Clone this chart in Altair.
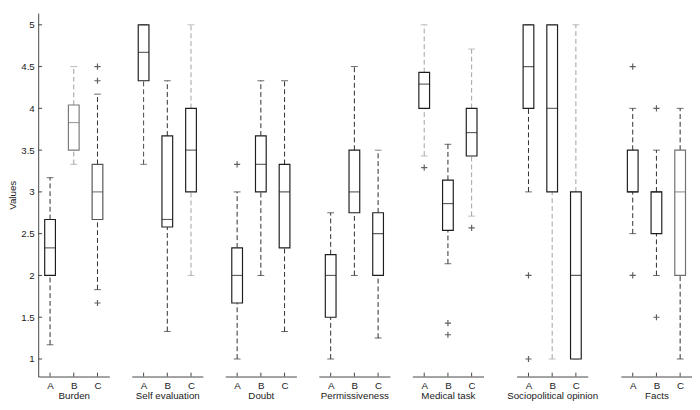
import altair as alt
import pandas as pd

groups = ["Burden", "Self evaluation", "Doubt", "Permissiveness",
          "Medical task", "Sociopolitical opinion", "Facts"]
cats = ["A", "B", "C"]

# per box (group-major, A/B/C within group)
lower = [1.17, 3.33, 1.83,  3.33, 1.33, 2.0,  1.0, 2.0, 1.33,  1.0, 2.0, 1.25,
         3.43, 2.14, 2.71,  3.0, 1.0, 1.0,  2.5, 2.0, 1.0]
q1 = [2.0, 3.5, 2.67,  4.33, 2.58, 3.0,  1.67, 3.0, 2.33,  1.5, 2.75, 2.0,
      4.0, 2.54, 3.43,  4.0, 3.0, 1.0,  3.0, 2.5, 2.0]
med = [2.33, 3.83, 3.0,  4.67, 2.67, 3.5,  2.0, 3.33, 3.0,  2.0, 3.0, 2.5,
       4.29, 2.86, 3.71,  4.5, 4.0, 2.0,  3.0, 3.0, 3.0]
q3 = [2.67, 4.04, 3.33,  5.0, 3.67, 4.0,  2.33, 3.67, 3.33,  2.25, 3.5, 2.75,
      4.43, 3.14, 4.0,  5.0, 5.0, 3.0,  3.5, 3.0, 3.5]
upper = [3.17, 4.5, 4.17,  5.0, 4.33, 5.0,  3.0, 4.33, 4.33,  2.75, 4.5, 3.5,
         5.0, 3.57, 4.71,  5.0, 5.0, 5.0,  4.0, 3.5, 4.0]

box_color = ["#1e1e1e", "#7a7a7a", "#555555",  "#1e1e1e", "#1e1e1e", "#1e1e1e",
             "#1e1e1e", "#1e1e1e", "#1e1e1e",  "#1e1e1e", "#1e1e1e", "#1e1e1e",
             "#1e1e1e", "#1e1e1e", "#1e1e1e",  "#1e1e1e", "#1e1e1e", "#1e1e1e",
             "#1e1e1e", "#1e1e1e", "#707070"]
whisker_color = ["#2a2a2a", "#9a9a9a", "#2a2a2a",  "#444444", "#2a2a2a", "#a0a0a0",
                 "#2a2a2a", "#2a2a2a", "#2a2a2a",  "#2a2a2a", "#2a2a2a", "#2a2a2a",
                 "#a0a0a0", "#2a2a2a", "#a0a0a0",  "#2a2a2a", "#a0a0a0", "#a0a0a0",
                 "#2a2a2a", "#2a2a2a", "#2a2a2a"]

out_group = ["Burden", "Burden", "Burden", "Doubt", "Medical task", "Medical task",
             "Medical task", "Medical task", "Sociopolitical opinion",
             "Sociopolitical opinion", "Facts", "Facts", "Facts", "Facts"]
out_cat = ["C", "C", "C", "A", "A", "B", "B", "C", "A", "A", "A", "A", "B", "B"]
out_val = [4.5, 4.33, 1.67, 3.33, 3.29, 1.43, 1.29, 2.57, 2.0, 1.0, 4.5, 2.0, 4.0, 1.5]

y_ticks = [1, 1.5, 2, 2.5, 3, 3.5, 4, 4.5, 5]

df = pd.DataFrame({
    "group": [g for g in groups for _ in cats],
    "cat": cats * len(groups),
    "lower": lower, "q1": q1, "med": med, "q3": q3, "upper": upper,
    "bc": box_color, "wc": whisker_color,
})
odf = pd.DataFrame({"group": out_group, "cat": out_cat, "v": out_val})
tdf = pd.DataFrame({"v": y_ticks})

W = 73
H = 373
FONT = "Liberation Sans"
y_scale = alt.Scale(domain=[0.79, 5.14], nice=False, zero=False)


def panel(i, g):
    d = df[df.group == g]
    o = odf[odf.group == g]
    x = alt.X("cat:N",
              scale=alt.Scale(type="point", domain=cats, padding=0.5),
              axis=alt.Axis(title=g, labelAngle=0, ticks=False, domain=True,
                            domainColor="#444444", labelPadding=4,
                            titlePadding=1, labelFontSize=10, titleFontSize=10,
                            labelFont=FONT, titleFont=FONT, labelColor="#222222",
                            titleColor="#222222", titleFontWeight="normal"))
    if i == 0:
        yax = alt.Axis(values=y_ticks, format="~g", title="Values", grid=False,
                       ticks=False, domain=True, domainColor="#444444",
                       labelPadding=4, titlePadding=3, labelFontSize=10,
                       titleFontSize=10, labelFont=FONT, titleFont=FONT,
                       labelColor="#222222", titleColor="#222222",
                       titleFontWeight="normal")
    else:
        yax = None

    base = alt.Chart(d)
    wh_up = base.mark_rule(strokeDash=[5, 3], strokeWidth=1).encode(
        x=x, y=alt.Y("q3:Q", scale=y_scale, axis=yax), y2="upper:Q",
        color=alt.Color("wc:N", scale=None))
    wh_lo = base.mark_rule(strokeDash=[5, 3], strokeWidth=1).encode(
        x=x, y=alt.Y("lower:Q", scale=y_scale), y2="q1:Q",
        color=alt.Color("wc:N", scale=None))
    cap_up = base.mark_tick(size=7, thickness=1).encode(
        x=x, y=alt.Y("upper:Q", scale=y_scale), color=alt.Color("wc:N", scale=None))
    cap_lo = base.mark_tick(size=7, thickness=1).encode(
        x=x, y=alt.Y("lower:Q", scale=y_scale), color=alt.Color("wc:N", scale=None))
    box = base.mark_bar(size=11, fill="white", strokeWidth=1.2).encode(
        x=x, y=alt.Y("q1:Q", scale=y_scale), y2="q3:Q",
        stroke=alt.Stroke("bc:N", scale=None))
    median = base.mark_tick(size=11, thickness=1.2).encode(
        x=x, y=alt.Y("med:Q", scale=y_scale), color=alt.Color("bc:N", scale=None))
    xt = base.mark_rule(color="#444444", strokeWidth=1).encode(
        x=x, y=alt.value(H), y2=alt.value(H - 4))
    layers = [wh_up, wh_lo, cap_up, cap_lo, box, median, xt]
    if len(o):
        outl = alt.Chart(o).mark_point(shape="M-1,0L1,0M0,-1L0,1", size=40,
                                       filled=False, strokeWidth=1.2,
                                       color="#1e1e1e").encode(
            x=x, y=alt.Y("v:Q", scale=y_scale))
        layers.append(outl)
    if i == 0:
        yt = alt.Chart(tdf).mark_rule(color="#444444", strokeWidth=1).encode(
            y=alt.Y("v:Q", scale=y_scale), x=alt.value(0), x2=alt.value(4))
        layers.append(yt)
    return alt.layer(*layers).properties(width=W, height=H)


chart = alt.hconcat(*[panel(i, g) for i, g in enumerate(groups)], spacing=23).properties(
    padding=0
).configure(background="white").configure_view(stroke=None)

chart.save("out.html", embed_options={"renderer": "svg", "actions": False})
